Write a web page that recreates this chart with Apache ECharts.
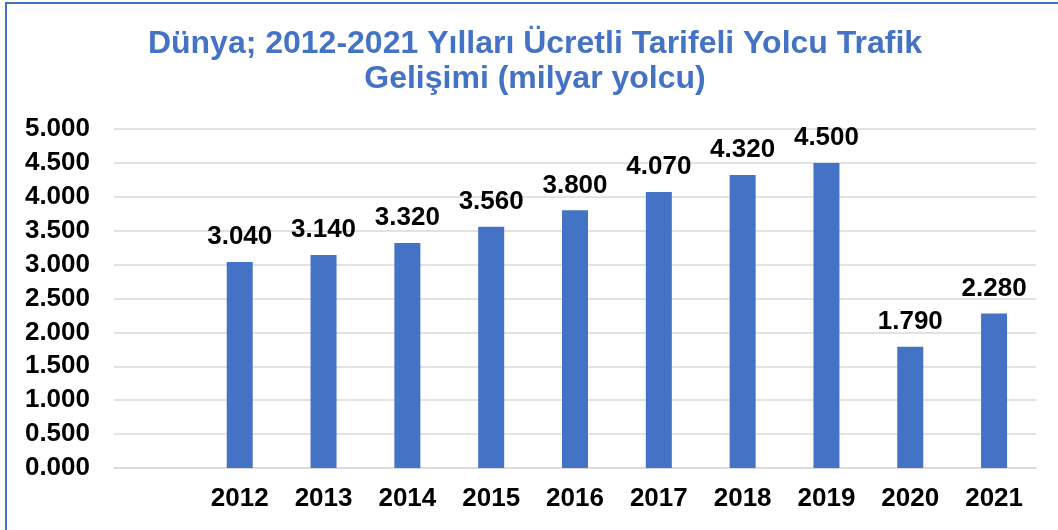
<!DOCTYPE html>
<html>
<head>
<meta charset="utf-8">
<script src="https://cdn.jsdelivr.net/npm/echarts@6/dist/echarts.min.js"></script>
<style>
  html, body { margin: 0; padding: 0; background: #fff; }
  #chart { width: 1058px; height: 530px; }
</style>
</head>
<body>
<div id="chart"></div>
<script>
// veriler
const years = ['', '2012', '2013', '2014', '2015', '2016', '2017', '2018', '2019', '2020', '2021'];
const passengers = [null, 3.04, 3.14, 3.32, 3.56, 3.8, 4.07, 4.32, 4.5, 1.79, 2.28];
const yTicks = { min: 0, max: 5, interval: 0.5 };

const blue = '#4472C4';
const font = 'Liberation Sans, Arial, sans-serif';

const chart = echarts.init(document.getElementById('chart'));

chart.setOption({
  animation: false,
  title: {
    text: 'Dünya; 2012-2021 Yılları Ücretli Tarifeli Yolcu Trafik\nGelişimi (milyar yolcu)',
    left: 530,
    textAlign: 'center',
    top: 22,
    textStyle: {
      color: blue,
      fontFamily: font,
      fontWeight: 'bold',
      fontSize: 32,
      lineHeight: 35
    }
  },
  graphic: [
    { type: 'line', shape: { x1: 5, y1: 3, x2: 1058, y2: 3 }, style: { stroke: blue, lineWidth: 2 } },
    { type: 'line', shape: { x1: 6, y1: 3, x2: 6, y2: 530 }, style: { stroke: blue, lineWidth: 2 } }
  ],
  grid: { left: 114, right: 22, top: 129, bottom: 62 },
  xAxis: {
    type: 'category',
    data: years,
    axisLine: { lineStyle: { color: '#d9d9d9', width: 1.5 } },
    axisTick: { show: false },
    axisLabel: {
      color: '#000',
      fontFamily: font,
      fontWeight: 'bold',
      fontSize: 26,
      margin: 18
    }
  },
  yAxis: {
    type: 'value',
    min: yTicks.min,
    max: yTicks.max,
    interval: yTicks.interval,
    axisLine: { show: false },
    axisTick: { show: false },
    splitLine: { lineStyle: { color: '#d9d9d9', width: 1.5 } },
    axisLabel: {
      color: '#000',
      fontFamily: font,
      fontWeight: 'bold',
      fontSize: 26,
      margin: 24,
      formatter: (v) => v.toFixed(3)
    }
  },
  series: [{
    type: 'bar',
    data: passengers,
    barWidth: 26,
    itemStyle: { color: blue },
    label: {
      show: true,
      position: 'top',
      distance: 12,
      color: '#000',
      fontFamily: font,
      fontWeight: 'bold',
      fontSize: 26,
      formatter: (p) => p.value.toFixed(3)
    }
  }]
});
</script>
</body>
</html>
